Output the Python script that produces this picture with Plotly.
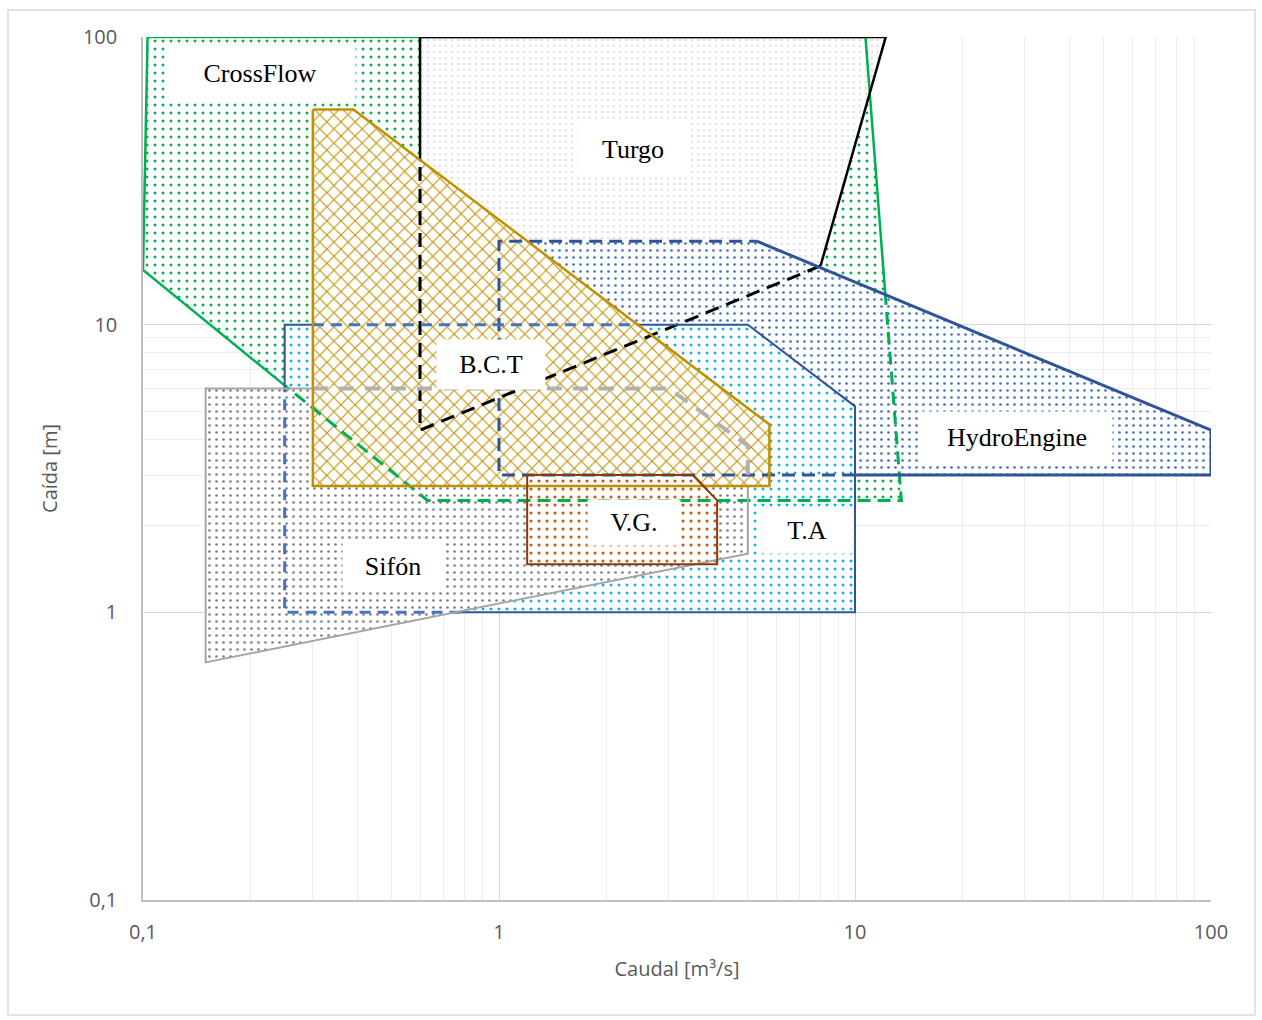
import math
import plotly.graph_objects as go

# ---------------- data (caudal Q [m3/s], caida H [m]) ----------------
cf_q = [0.1, 0.103, 10.7, 12.15, 13.5, 0.63, 0.25]
cf_h = [15.5, 100, 100, 13.0, 2.45, 2.45, 6.15]

tu_q = [0.6, 0.6, 12.2, 8.0, 0.6]
tu_h = [37, 100, 100, 16, 4.3]

he_q = [1.0, 5.3, 100, 100, 10, 1.0]
he_h = [19.5, 19.5, 4.3, 3.0, 3.0, 3.0]

ta_q = [0.25, 0.3, 2.45, 5.0, 10, 10, 0.78, 0.25, 0.25]
ta_h = [10, 10, 10, 10, 5.2, 1.0, 1.0, 1.0, 6.0]

si_q = [0.15, 0.3, 3.0, 5.0, 5.0, 5.0, 0.15]
si_h = [6.0, 6.0, 6.0, 3.8, 2.75, 1.6, 0.67]

bct_q = [0.3, 0.39, 5.75, 5.75, 0.3]
bct_h = [56, 56, 4.5, 2.75, 2.75]

vg_q = [1.2, 3.5, 4.1, 4.1, 1.2]
vg_h = [3.0, 3.0, 2.45, 1.47, 1.47]

labels = ["CrossFlow", "Turgo", "B.C.T", "HydroEngine", "T.A", "V.G.", "Sifón"]
label_q = [0.213, 2.38, 0.95, 28.5, 7.33, 2.39, 0.504]
label_h = [74.6, 40.5, 7.27, 4.05, 1.925, 2.05, 1.444]

x_tickvals = [0.1, 1, 10, 100]
x_ticktext = ["0,1", "1", "10", "100"]
y_tickvals = [0.1, 1, 10, 100]
y_ticktext = ["0,1", "1", "10", "100"]

# ---------------- styles ----------------
shapes = [
    dict(q=cf_q, h=cf_h, fg="#00B050", psize=8, sol=0.11, color="#00B050", dcolor="#00B050",
         w=2.5, dw=3, solid=[[6, 0, 1, 2, 3]], dashed=[[3, 4, 5, 6]], dash="13px,7px"),
    dict(q=tu_q, h=tu_h, fg="#E0E0E0", psize=6, sol=0.12, color="#000000", dcolor="#000000",
         w=2.5, dw=3, solid=[[0, 1, 2, 3]], dashed=[[3, 4, 0]], dash="14px,8px"),
    dict(q=he_q, h=he_h, fg="#4472C4", psize=7, sol=0.12, color="#2F5597", dcolor="#2F5597",
         w=3, dw=3, solid=[[1, 2, 3, 4]], dashed=[[4, 5, 0, 1]], dash="13px,7px"),
    dict(q=ta_q, h=ta_h, fg="#00B0F0", psize=8, sol=0.11, color="#2F5597", dcolor="#4472C4",
         w=2, dw=3, solid=[[8, 0, 1], [2, 3, 4, 5, 6]], dashed=[[1, 2], [6, 7, 8]], dash="11px,7px"),
    dict(q=si_q, h=si_h, fg="#808080", psize=7, sol=0.12, color="#A5A5A5", dcolor="#B0B0B0",
         w=2, dw=4, solid=[[4, 5, 6, 0, 1]], dashed=[[1, 2, 3, 4]], dash="15px,11px"),
    dict(q=bct_q, h=bct_h, fg="#BF9000", psize=10, sol=0.2, color="#BF9000", dcolor="#BF9000",
         w=2.5, dw=2, solid=[[0, 1, 2, 3, 4, 0]], dashed=[], dash="solid", shape="x"),
    dict(q=vg_q, h=vg_h, fg="#C55A11", psize=8, sol=0.12, color="#843C0C", dcolor="#843C0C",
         w=2, dw=2, solid=[[0, 1, 2, 3, 4, 0]], dashed=[], dash="solid"),
]

fig = go.Figure()

# fills
for s in shapes:
    fig.add_trace(go.Scatter(
        x=s["q"] + [s["q"][0]], y=s["h"] + [s["h"][0]],
        mode="lines", fill="toself", line=dict(width=0, color="rgba(0,0,0,0)"),
        fillcolor="white",
        fillpattern=dict(shape=s.get("shape", "."), fgcolor=s["fg"], bgcolor="white",
                         size=s["psize"], solidity=s["sol"], fillmode="replace"),
        hoverinfo="skip", showlegend=False))

# outlines
for s in shapes:
    for path in s["solid"]:
        fig.add_trace(go.Scatter(
            x=[s["q"][i] for i in path], y=[s["h"][i] for i in path], mode="lines",
            line=dict(color=s["color"], width=s["w"]), hoverinfo="skip", showlegend=False))
    for path in s["dashed"]:
        fig.add_trace(go.Scatter(
            x=[s["q"][i] for i in path], y=[s["h"][i] for i in path], mode="lines",
            line=dict(color=s["dcolor"], width=s["dw"], dash=s["dash"]),
            hoverinfo="skip", showlegend=False))

box_w = [190, 110, 108, 190, 90, 92, 100]
box_h = [53, 55, 49, 51, 45, 45, 47]
for t, q, h, bw, bh in zip(labels, label_q, label_h, box_w, box_h):
    fig.add_annotation(x=math.log10(q), y=math.log10(h), xref="x", yref="y", text=t, showarrow=False,
                       font=dict(family="Liberation Serif, Times New Roman, serif", size=26, color="black"),
                       bgcolor="white", width=bw, height=bh, borderpad=0, align="center", valign="middle")

x_minor_vals = [k * 10.0 ** e for e in (-1, 0, 1) for k in range(2, 10)]
y_minor_vals = [float(k) for k in range(2, 10)]
axis_font = dict(family="Open Sans, Noto Sans, sans-serif", size=20, color="#595959")
title_font = dict(family="Open Sans, Noto Sans, sans-serif", size=20, color="#595959")

fig.update_xaxes(type="log", range=[-1, 2], tickmode="array", tickvals=x_tickvals, ticktext=x_ticktext,
                 showgrid=True, gridcolor="#D9D9D9", gridwidth=1,
                 minor=dict(tickmode="array", tickvals=x_minor_vals, showgrid=True, gridcolor="#EDEDED", gridwidth=1),
                 showline=True, linecolor="#BFBFBF", linewidth=1.5, zeroline=False,
                 tickfont=axis_font, ticks="", ticklabelstandoff=13,
                 title=dict(text="Caudal [m³/s]", font=title_font, standoff=18))
fig.update_yaxes(type="log", range=[-1, 2], tickmode="array", tickvals=y_tickvals, ticktext=y_ticktext,
                 showgrid=True, gridcolor="#D9D9D9", gridwidth=1,
                 minor=dict(tickmode="array", tickvals=y_minor_vals, showgrid=True, gridcolor="#EDEDED", gridwidth=1),
                 showline=True, linecolor="#BFBFBF", linewidth=1.5, zeroline=False,
                 tickfont=axis_font, ticks="", ticklabelstandoff=20,
                 title=dict(text="Caída [m]", font=title_font, standoff=20))

fig.add_shape(type="rect", xref="paper", yref="paper", x0=-0.1264, x1=1.0412, y0=-0.1333, y1=1.0313,
              line=dict(color="#D9D9D9", width=1.5), fillcolor="rgba(0,0,0,0)", layer="below")

fig.update_layout(width=1262, height=1020, margin=dict(l=143, r=51, t=37, b=120),
                  plot_bgcolor="white", paper_bgcolor="white", showlegend=False)

fig.write_html("out.html", config={"displayModeBar": False},
               post_script="document.body.style.margin='0';")
